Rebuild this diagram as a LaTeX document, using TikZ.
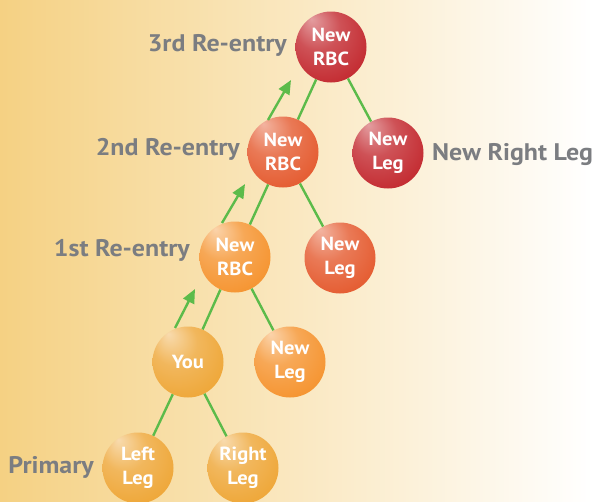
\documentclass[tikz,border=0pt]{standalone}
\usepackage{fontspec}
\setmainfont{PT Sans}
\usetikzlibrary{arrows.meta}
\definecolor{bgL}{HTML}{F5D183}
\definecolor{lbl}{HTML}{7B7D81}
\definecolor{grn}{HTML}{5CBB4A}
\definecolor{sA}{HTML}{EEA534}
\definecolor{sB}{HTML}{F5922C}
\definecolor{sC}{HTML}{E4582C}
\definecolor{sD}{HTML}{C2262C}
\pgfdeclareradialshading{sphA}{\pgfpoint{-14bp}{20bp}}{color(0bp)=(white!60!sA); color(16bp)=(sA!80!white); color(36bp)=(sA); color(50bp)=(sA!85!black)}
\pgfdeclareradialshading{sphB}{\pgfpoint{-14bp}{20bp}}{color(0bp)=(white!60!sB); color(16bp)=(sB!80!white); color(36bp)=(sB); color(50bp)=(sB!85!black)}
\pgfdeclareradialshading{sphC}{\pgfpoint{-14bp}{20bp}}{color(0bp)=(white!55!sC); color(16bp)=(sC!80!white); color(36bp)=(sC); color(50bp)=(sC!85!black)}
\pgfdeclareradialshading{sphD}{\pgfpoint{-14bp}{20bp}}{color(0bp)=(white!55!sD); color(16bp)=(sD!80!white); color(36bp)=(sD); color(50bp)=(sD!85!black)}
\newcommand\sht[1]{\scalebox{1.08}[1]{#1}}
\newcommand\lbltxt[1]{\scalebox{1.08}[1]{#1}}
\tikzset{
  sph/.style={circle, minimum size=71pt, inner sep=0pt, shading=#1, align=center,
    text=white, font=\fontsize{19}{24}\selectfont\bfseries},
  tree/.style={draw=grn, line width=2.4pt},
  flow/.style={draw=grn, line width=2.4pt, -{Triangle[length=14pt,width=12pt]}},
  lvl/.style={text=lbl, font=\fontsize{24}{28}\selectfont\bfseries, inner sep=0pt}
}
\begin{document}
\begin{tikzpicture}[x=1pt,y=-1pt]
\shade[left color=bgL, right color=white] (0,0) rectangle (592,501);
\useasboundingbox (0,0) rectangle (592,501);
% spheres
\node[sph=sphD] (r3) at (331,47) {\sht{New}\\\sht{RBC}};
\node[sph=sphD] (l3) at (388,153) {\sht{New}\\\sht{Leg}};
\node[sph=sphC] (r2) at (283,152) {\sht{New}\\\sht{RBC}};
\node[sph=sphC] (l2) at (340,258) {\sht{New}\\\sht{Leg}};
\node[sph=sphB] (r1) at (235,257) {\sht{New}\\\sht{RBC}};
\node[sph=sphB] (l1) at (290,362) {\sht{New}\\\sht{Leg}};
\node[sph=sphA] (you) at (188,362) {\sht{You}};
\node[sph=sphA] (ll) at (138,468) {\sht{Left}\\\sht{Leg}};
\node[sph=sphA] (rl) at (243,468) {\sht{Right}\\\sht{Leg}};
% tree lines
\draw[tree] (r3) -- (r2);
\draw[tree] (r3) -- (l3);
\draw[tree] (r2) -- (r1);
\draw[tree] (r2) -- (l2);
\draw[tree] (r1) -- (you);
\draw[tree] (r1) -- (l1);
\draw[tree] (you) -- (ll);
\draw[tree] (you) -- (rl);
% arrows
\coordinate (a1s) at (175,328);
\coordinate (a1e) at (195,289);
\coordinate (a2s) at (222,223);
\coordinate (a2e) at (245,184);
\coordinate (a3s) at (268,120);
\coordinate (a3e) at (291,80);
\draw[flow] (a1s) -- (a1e);
\draw[flow] (a2s) -- (a2e);
\draw[flow] (a3s) -- (a3e);
% labels
\node[lvl, anchor=east] (t3) at (287,45) {\lbltxt{3rd Re-entry}};
\node[lvl, anchor=east] (t2) at (240,149) {\lbltxt{2nd Re-entry}};
\node[lvl, anchor=east] (t1) at (190,250) {\lbltxt{1st Re-entry}};
\node[lvl, anchor=east] (t0) at (94,467) {\lbltxt{Primary}};
\node[lvl, anchor=west] (tr) at (432,155) {\lbltxt{New Right Leg}};
\end{tikzpicture}
\end{document}
